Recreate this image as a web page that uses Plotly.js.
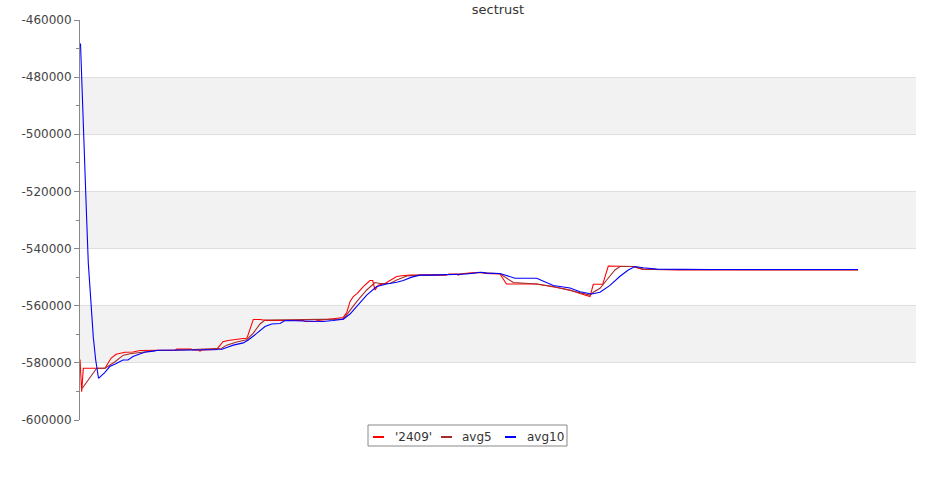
<!DOCTYPE html>
<html>
<head>
<meta charset="utf-8">
<script src="https://cdn.plot.ly/plotly-3.0.1.min.js"></script>
<style>html,body{margin:0;padding:0;background:#fff;}#chart{width:935px;height:500px;}</style>
</head>
<body>
<div id="chart"></div>
<script>
// ---- data (x = sample position, y = value) ----
var seriesNames = ["'2409'", "avg5", "avg10"];

var s2409X = [0, 1.7, 3.3, 25, 31, 36, 45, 53, 60, 76.7, 95, 97, 111, 113, 118, 120, 122, 136.7,
  143, 148, 156.7, 163, 166.7, 168, 173.3, 180, 186.7, 223, 225, 235, 238, 243, 253, 263.3, 266.7,
  270, 273.3, 277.3, 283.3, 286.7, 290, 292.7, 295, 298.3, 305, 311.7, 316.7, 321.7, 330, 366, 369,
  376.7, 378, 383.3, 400, 405, 420, 426.5, 456.7, 476.7, 490, 500, 510, 513.3, 522.7, 528.3, 543.3,
  553.3, 561.7, 576.7, 598.3, 778];
var s2409Y = [-578800, -590100, -581900, -581900, -578400, -577000, -576300, -576200, -575700, -575600,
  -575500, -575200, -575200, -575500, -575500, -575900, -575500, -575300,
  -572600, -572200, -571700, -571500, -571400, -570300, -564800, -564800, -565200, -565200, -565500,
  -565500, -565200, -565000, -564700, -564100, -562400,
  -558600, -556800, -555700, -553300, -552200, -551200, -551200, -554500, -552800, -552200, -550800,
  -549800, -549500, -549300, -549300, -548900,
  -548900, -549300, -548700, -548300, -548700, -548900, -552400, -552400, -553600, -554500, -555700,
  -556800, -552500, -552500, -546100, -546100,
  -546300, -547200, -547300, -547500, -547500];

var avg5X = [2.3, 16.7, 25, 35, 43.3, 50, 60, 76.7, 96, 141.7, 146.7, 156.7, 166.7, 173.3, 180, 185,
  263.3, 270, 276.7, 286.7, 293.3, 295, 300, 310, 316.7, 326.7, 340, 376.7, 400, 420, 433.3, 456.7,
  473.3, 510, 513.3, 520, 526.7, 535, 540, 553.3, 563.3, 576.7, 778];
var avg5Y = [-588900, -581900, -581900, -579600, -577300, -576800, -576400, -575700, -575600, -574900,
  -573800, -572700, -571900, -569600, -566400, -565000,
  -564700, -561500, -558600, -554500, -552200, -551900, -552200, -552200, -551000, -549600, -549300,
  -549000, -548400, -548800, -551900, -552400,
  -553300, -556300, -555300, -553900, -551000, -547500, -546300, -546300, -547200, -547300, -547400];

var avg10X = [0.5, 3.3, 6.7, 8.3, 10.7, 13.3, 15.7, 18.5, 24.7, 29.7, 34.7, 38.7, 43, 48, 53, 59.7,
  64.7, 73, 78, 111.7, 141.3, 146.7, 153.3, 163.3, 168.3, 176.7, 185, 191.7, 200, 205, 243, 253,
  263.3, 270, 278.3, 286.7, 296.7, 306.7, 316.7, 323.3, 331.7, 340, 353.3, 386.7, 401.7, 406.7, 420,
  435, 456.7, 473.3, 490, 500, 511.7, 520, 530, 540, 548.3, 555, 563.3, 576.7, 630, 778];
var avg10Y = [-468200, -499700, -530000, -545100, -559100, -571000, -579000, -585400, -583400, -581300,
  -580500, -579900, -579000, -579000, -577800, -576900,
  -576300, -575900, -575600, -575500, -575300, -574600, -573800, -573000, -572000, -569700, -567300,
  -566400, -566200, -565200, -565500, -565200,
  -564700, -562900, -559800, -556300, -553300, -552400, -551800, -551200, -550000, -549300, -549300,
  -548900, -548300, -548600, -548700,
  -550400, -550400, -552900, -553800, -555100, -555900, -555300, -552900, -549700, -547500, -546300,
  -546700, -547200, -547300, -547300];

var yTicks = [-460000, -480000, -500000, -520000, -540000, -560000, -580000, -600000];
var yTickText = yTicks.map(function (v) { return String(v); });
// shaded bands between tick pairs
var bandPairs = [[-500000, -480000], [-540000, -520000], [-580000, -560000]];

var colors = ['#ff0000', '#a52a2a', '#0000ff'];
var FONT = 'DejaVu Sans, Verdana, sans-serif';

var traces = [
  {x: s2409X, y: s2409Y, name: seriesNames[0]},
  {x: avg5X, y: avg5Y, name: seriesNames[1]},
  {x: avg10X, y: avg10Y, name: seriesNames[2]}
].map(function (t, i) {
  t.type = 'scatter'; t.mode = 'lines';
  t.line = {color: colors[i], width: 1.1};
  t.showlegend = false; t.hoverinfo = 'skip';
  return t;
});

var shapes = bandPairs.map(function (b) {
  return {type: 'rect', xref: 'paper', yref: 'y', x0: 0, x1: 1, y0: b[0], y1: b[1],
    fillcolor: '#f2f2f2', line: {width: 0}, layer: 'below'};
});

// manual legend (pixel -> paper)
function px2x(p) { return (p - 80) / 836; }
function py2y(p) { return (420 - p) / 400; }
shapes.push({type: 'rect', xref: 'paper', yref: 'paper', x0: px2x(368), x1: px2x(567),
  y0: py2y(446), y1: py2y(425), line: {color: '#888', width: 1}, fillcolor: '#fff'});
var legLineX = [373, 441, 505];
var legTextX = [393, 460, 525];
var annotations = [];
for (var i = 0; i < 3; i++) {
  shapes.push({type: 'line', xref: 'paper', yref: 'paper', x0: px2x(legLineX[i]), x1: px2x(legLineX[i] + 11),
    y0: py2y(437), y1: py2y(437), line: {color: colors[i], width: 2}});
  annotations.push({xref: 'paper', yref: 'paper', x: px2x(legTextX[i]), y: py2y(436.5),
    xanchor: 'left', yanchor: 'middle', showarrow: false, text: seriesNames[i],
    font: {family: FONT, size: 12, color: '#333'}});
}

var layout = {
  width: 935, height: 500,
  margin: {l: 80, r: 19, t: 20, b: 80, pad: 0},
  paper_bgcolor: '#fff', plot_bgcolor: '#fff',
  title: {text: 'sectrust', x: 0.5, xref: 'paper', y: 0.982, yref: 'container', yanchor: 'middle',
    font: {family: FONT, size: 13, color: '#333'}},
  showlegend: false,
  xaxis: {range: [0, 836], showgrid: false, zeroline: false, showline: false, showticklabels: false, ticks: ''},
  yaxis: {range: [-600000, -460000], tickmode: 'array', tickvals: yTicks, ticktext: yTickText,
    showgrid: true, gridcolor: '#dedede', gridwidth: 1, zeroline: false,
    showline: true, linecolor: '#888', linewidth: 1,
    ticks: 'outside', ticklen: 5, tickcolor: '#888', tickwidth: 1,
    minor: {dtick: 10000, tick0: -460000, ticks: 'outside', ticklen: 3, tickcolor: '#888', showgrid: false},
    tickfont: {family: FONT, size: 12, color: '#444'}},
  shapes: shapes,
  annotations: annotations
};

Plotly.newPlot('chart', traces, layout, {staticPlot: true, displayModeBar: false});
</script>
</body>
</html>
